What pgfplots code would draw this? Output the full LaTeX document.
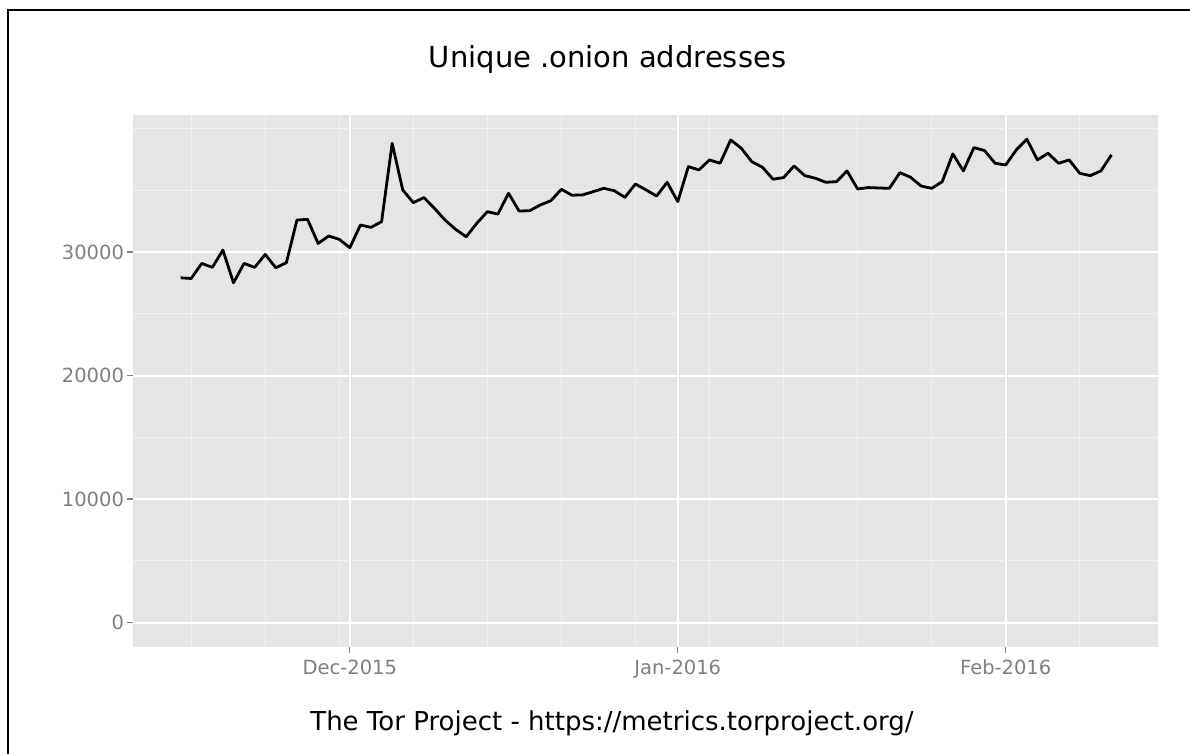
\documentclass[border=0pt]{standalone}
\usepackage{fontspec}
\setmainfont{DejaVu Sans}
\usepackage{pgfplots}
\pgfplotsset{compat=1.18}
\definecolor{panel}{HTML}{E5E5E5}
\definecolor{minorgrid}{HTML}{F2F2F2}
\definecolor{ticklab}{HTML}{7F7F7F}
\begin{document}
\begin{tikzpicture}
\path[use as bounding box] (0,0) rectangle (595pt,377pt);
\draw[line width=1pt] (4pt,0) -- (4pt,372pt) -- (595pt,372pt);
\begin{axis}[
  at={(66.5pt,53.5pt)}, anchor=south west,
  scale only axis, width=512.5pt, height=266pt,
  xmin=-20.5, xmax=76.4, ymin=-1980, ymax=41100,
  axis background/.style={fill=panel},
  axis line style={draw=none},
  scaled y ticks=false,
  xtick={0,31,62}, xticklabels={Dec-2015,Jan-2016,Feb-2016},
  ytick={0,10000,20000,30000},
  yticklabels={0,10000,20000,30000},
  minor xtick={-15,-8,-1,6,13,20,27,34,41,48,55,69},
  minor ytick={5000,15000,25000,35000,40000},
  grid=both,
  major grid style={white, line width=1pt},
  minor grid style={minorgrid, line width=0.6pt},
  tick align=outside,
  major tick length=3pt, minor tick length=0pt,
  tick style={ticklab, line width=0.6pt},
  xtick pos=left, ytick pos=left,
  ticklabel style={font=\fontsize{9.75pt}{11pt}\selectfont, text=ticklab},
  yticklabel style={xshift=2pt},
]
\addplot[black, line width=1.4pt, line join=round] coordinates {
(-16,27917) (-15,27860) (-14,29080) (-13,28760) (-12,30160) (-11,27510)
(-10,29080) (-9,28760) (-8,29810) (-7,28730) (-6,29140) (-5,32590)
(-4,32650) (-3,30700) (-2,31300) (-1,31030) (0,30350) (1,32190)
(2,32000) (3,32460) (4,38810) (5,35030) (6,34000) (7,34410)
(8,33540) (9,32590) (10,31840) (11,31240) (12,32330) (13,33270)
(14,33080) (15,34760) (16,33320) (17,33350) (18,33810) (19,34160)
(20,35080) (21,34600) (22,34630) (23,34890) (24,35160) (25,34970)
(26,34430) (27,35510) (28,35030) (29,34540) (30,35650) (31,34080)
(32,36920) (33,36650) (34,37460) (35,37190) (36,39080) (37,38410)
(38,37320) (39,36870) (40,35900) (41,36030) (42,36970) (43,36190)
(44,35980) (45,35650) (46,35700) (47,36570) (48,35110) (49,35220)
(50,35190) (51,35160) (52,36430) (53,36060) (54,35350) (55,35160)
(56,35700) (57,37950) (58,36570) (59,38460) (60,38220) (61,37190)
(62,37050) (63,38270) (64,39140) (65,37460) (66,38000) (67,37190)
(68,37460) (69,36380) (70,36190) (71,36570) (72,37870)
};
\end{axis}
\node[anchor=base, font=\fontsize{14.5pt}{17pt}\selectfont] at (303.75pt,343pt) {Unique .onion addresses};
\node[anchor=base, font=\fontsize{13pt}{15pt}\selectfont] at (306pt,11.5pt) {The Tor Project - https://metrics.torproject.org/};
\end{tikzpicture}
\end{document}
